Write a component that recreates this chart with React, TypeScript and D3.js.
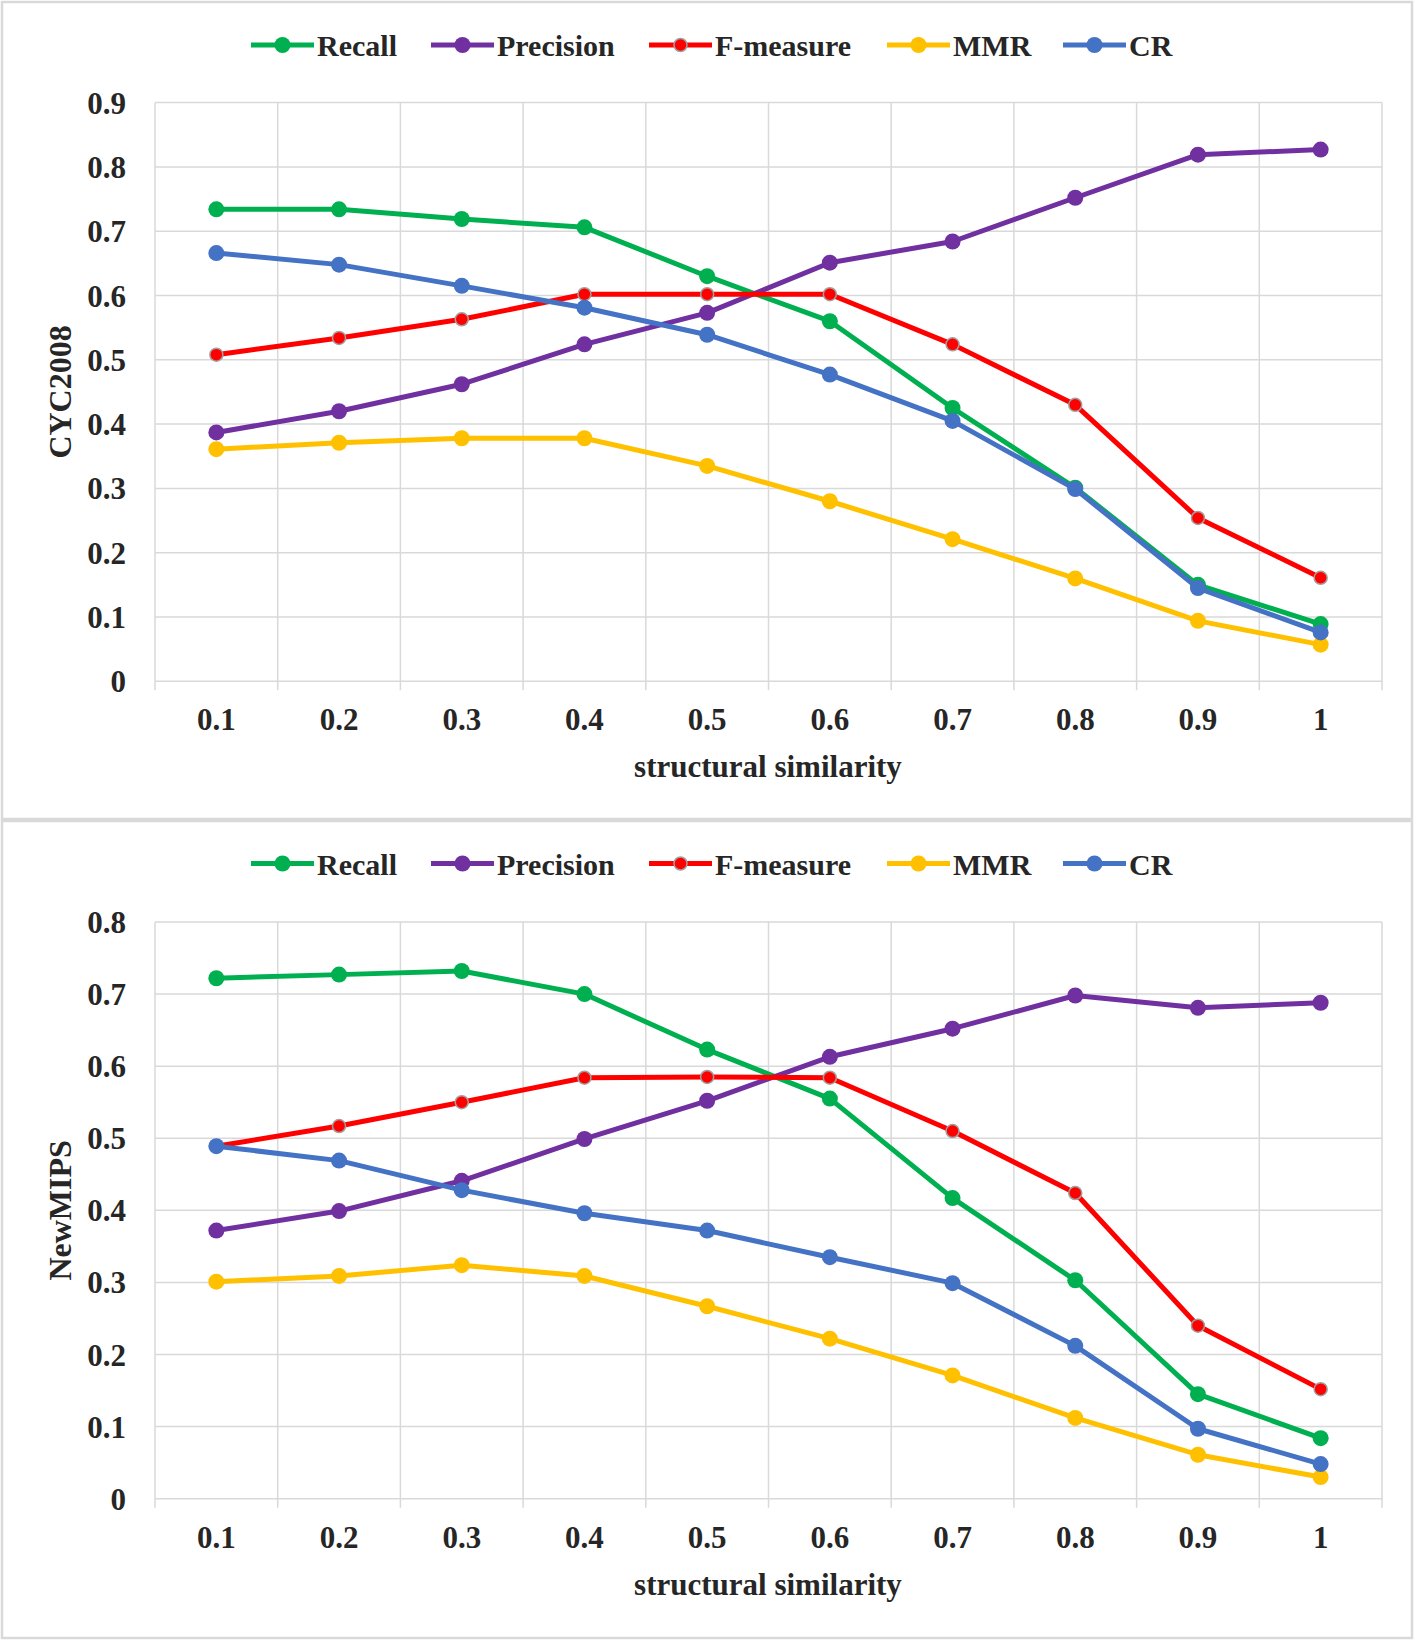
import React from "react";
import * as d3 from "d3";

const categories = ["0.1", "0.2", "0.3", "0.4", "0.5", "0.6", "0.7", "0.8", "0.9", "1"];

const seriesNames = ["Recall", "Precision", "F-measure", "MMR", "CR"];
const seriesColors = ["#00b050", "#7030a0", "#ff0000", "#ffc000", "#4472c4"];

// CYC2008
const cycRecall = [0.734, 0.734, 0.719, 0.706, 0.63, 0.56, 0.425, 0.301, 0.15, 0.089];
const cycPrecision = [0.387, 0.42, 0.462, 0.524, 0.573, 0.651, 0.684, 0.752, 0.819, 0.827];
const cycFmeasure = [0.508, 0.534, 0.563, 0.602, 0.602, 0.602, 0.524, 0.43, 0.254, 0.161];
const cycMMR = [0.361, 0.371, 0.378, 0.378, 0.335, 0.28, 0.221, 0.16, 0.094, 0.057];
const cycCR = [0.666, 0.648, 0.615, 0.581, 0.539, 0.477, 0.405, 0.299, 0.145, 0.076];

// NewMIPS
const mipsRecall = [0.722, 0.727, 0.732, 0.7, 0.623, 0.555, 0.417, 0.303, 0.145, 0.084];
const mipsPrecision = [0.372, 0.399, 0.441, 0.499, 0.552, 0.613, 0.652, 0.698, 0.681, 0.688];
const mipsFmeasure = [0.489, 0.517, 0.55, 0.584, 0.585, 0.584, 0.51, 0.424, 0.24, 0.152];
const mipsMMR = [0.301, 0.309, 0.324, 0.309, 0.267, 0.222, 0.171, 0.112, 0.061, 0.03];
const mipsCR = [0.489, 0.469, 0.428, 0.396, 0.372, 0.335, 0.299, 0.212, 0.097, 0.048];

const cycTicks = [0, 0.1, 0.2, 0.3, 0.4, 0.5, 0.6, 0.7, 0.8, 0.9];
const mipsTicks = [0, 0.1, 0.2, 0.3, 0.4, 0.5, 0.6, 0.7, 0.8];

const FONT = "'Liberation Serif', 'Times New Roman', serif";
const TXT = "#262626";

const legendLineX = [251, 431, 649, 887, 1063];

function Panel({ top, yTitle, yMax, ticks, series, yTop, yBottom }) {
  const x = d3.scaleBand().domain(categories).range([155, 1382]);
  const y = d3.scaleLinear().domain([0, yMax]).range([yBottom, yTop]);
  const line = d3
    .line<number>()
    .x((_, i) => (x(categories[i]) as number) + x.bandwidth() / 2)
    .y((d) => y(d));
  const bounds = categories.map((c) => x(c) as number).concat([x.range()[1]]);
  const legendY = top + 45;
  return (
    <g>
      {/* legend */}
      {seriesNames.map((n, i) => {
        const lx = legendLineX[i];
        const isF = n === "F-measure";
        return (
          <g key={n}>
            <line x1={lx} x2={lx + 63} y1={legendY} y2={legendY} stroke={seriesColors[i]} strokeWidth={5} />
            <circle cx={lx + 31.5} cy={legendY} r={isF ? 6.5 : 8} fill={seriesColors[i]} stroke={isF ? "#a0a0a0" : "none"} strokeWidth={1.5} />
            <text x={lx + 66} y={legendY + 11} fontFamily={FONT} fontWeight="bold" fontSize={30} fill={TXT}>
              {n}
            </text>
          </g>
        );
      })}
      {/* horizontal gridlines */}
      {ticks.map((t) => (
        <line key={"h" + t} x1={155} x2={1382} y1={y(t)} y2={y(t)} stroke="#d9d9d9" strokeWidth={1.5} />
      ))}
      {/* vertical gridlines */}
      {bounds.map((b, i) => (
        <line key={"v" + i} x1={b} x2={b} y1={yTop} y2={yBottom + 9} stroke="#d9d9d9" strokeWidth={1.5} />
      ))}
      {/* y tick labels */}
      {ticks.map((t) => (
        <text key={"yl" + t} x={126} y={y(t) + 11} textAnchor="end" fontFamily={FONT} fontWeight="bold" fontSize={31} fill={TXT}>
          {t === 0 ? "0" : d3.format(".1f")(t)}
        </text>
      ))}
      {/* x tick labels */}
      {categories.map((c) => (
        <text key={"xl" + c} x={(x(c) as number) + x.bandwidth() / 2} y={yBottom + 49} textAnchor="middle" fontFamily={FONT} fontWeight="bold" fontSize={31} fill={TXT}>
          {c}
        </text>
      ))}
      {/* x title */}
      <text x={768} y={yBottom + 96} textAnchor="middle" fontFamily={FONT} fontWeight="bold" fontSize={31} fill={TXT}>
        structural similarity
      </text>
      {/* y title */}
      <text
        transform={`translate(71,${(yTop + yBottom) / 2}) rotate(-90)`}
        textAnchor="middle"
        fontFamily={FONT}
        fontWeight="bold"
        fontSize={32}
        fill={TXT}
      >
        {yTitle}
      </text>
      {/* series */}
      {series.map((s, si) => {
        const isF = seriesNames[si] === "F-measure";
        return (
          <g key={"s" + si}>
            <path d={line(s) as string} fill="none" stroke={seriesColors[si]} strokeWidth={5} strokeLinejoin="round" />
            {s.map((v, i) => (
              <circle
                key={i}
                cx={(x(categories[i]) as number) + x.bandwidth() / 2}
                cy={y(v)}
                r={isF ? 6.5 : 8}
                fill={seriesColors[si]}
                stroke={isF ? "#a0a0a0" : "none"}
                strokeWidth={1.5}
              />
            ))}
          </g>
        );
      })}
    </g>
  );
}

export default function App() {
  return (
    <svg width={1415} height={1641} style={{ position: "absolute", left: 0, top: 0, background: "#fff" }}>
      <rect x={0} y={0} width={1415} height={1641} fill="#fff" />
      <rect x={2} y={2} width={1410} height={817} fill="none" stroke="#d9d9d9" strokeWidth={2.5} />
      <rect x={2} y={821} width={1410} height={817} fill="none" stroke="#d9d9d9" strokeWidth={2.5} />
      <Panel
        top={0}
        yTitle="CYC2008"
        yMax={0.9}
        ticks={cycTicks}
        series={[cycRecall, cycPrecision, cycFmeasure, cycMMR, cycCR]}
        yTop={102.6}
        yBottom={681.3}
      />
      <Panel
        top={818.5}
        yTitle="NewMIPS"
        yMax={0.8}
        ticks={mipsTicks}
        series={[mipsRecall, mipsPrecision, mipsFmeasure, mipsMMR, mipsCR]}
        yTop={922}
        yBottom={1498.7}
      />
    </svg>
  );
}
